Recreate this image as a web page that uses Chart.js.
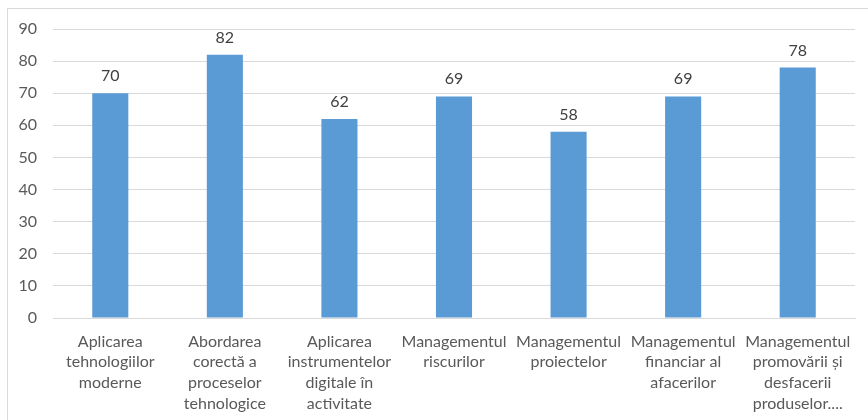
<!DOCTYPE html>
<html>
<head>
<meta charset="utf-8">
<script src="https://cdn.jsdelivr.net/npm/chart.js@4/dist/chart.umd.min.js"></script>
<style>
html,body{margin:0;padding:0;background:#fff;}
#wrap{width:868px;height:420px;position:relative;}
</style>
</head>
<body>
<div id="wrap"><canvas id="c" width="868" height="420"></canvas></div>
<script>
const categories = [
  ["Aplicarea", "tehnologiilor", "moderne"],
  ["Abordarea", "corectă a", "proceselor", "tehnologice"],
  ["Aplicarea", "instrumentelor", "digitale în", "activitate"],
  ["Managementul", "riscurilor"],
  ["Managementul", "proiectelor"],
  ["Managementul", "financiar al", "afacerilor"],
  ["Managementul", "promovării și", "desfacerii", "produselor...."]
];
const values = [70, 82, 62, 69, 58, 69, 78];
const yTicks = [0, 10, 20, 30, 40, 50, 60, 70, 80, 90];

const FONT = "Lato, 'Open Sans', sans-serif";

const borderPlugin = {
  id: 'outerBorder',
  beforeDraw(chart) {
    const ctx = chart.ctx;
    ctx.save();
    ctx.fillStyle = '#ffffff';
    ctx.fillRect(0, 0, chart.width, chart.height);
    ctx.strokeStyle = '#d9d9d9';
    ctx.lineWidth = 1;
    ctx.strokeRect(7.5, 8.5, 1000, 1000);
    ctx.restore();
  }
};

const labelPlugin = {
  id: 'dataLabels',
  afterDatasetsDraw(chart) {
    const ctx = chart.ctx;
    const meta = chart.getDatasetMeta(0);
    ctx.save();
    ctx.font = "16px " + FONT;
    ctx.fillStyle = '#404040';
    ctx.textAlign = 'center';
    ctx.textBaseline = 'alphabetic';
    meta.data.forEach((bar, i) => {
      ctx.fillText(String(values[i]), bar.x, bar.y - 12);
    });
    ctx.restore();
  }
};

new Chart(document.getElementById('c'), {
  type: 'bar',
  data: {
    labels: categories,
    datasets: [{
      data: values,
      backgroundColor: '#5b9bd5',
      borderWidth: 0,
      barPercentage: 0.63,
      categoryPercentage: 0.5
    }]
  },
  options: {
    responsive: false,
    animation: false,
    devicePixelRatio: 1,
    layout: { padding: { top: 29, right: 13, bottom: 0, left: 0 } },
    plugins: { legend: { display: false }, tooltip: { enabled: false } },
    scales: {
      y: {
        min: 0, max: 90,
        afterBuildTicks(axis) { axis.ticks = yTicks.map(v => ({ value: v })); },
        afterFit(axis) { axis.width = 53; },
        grid: { color: '#d9d9d9', drawTicks: false, lineWidth: 1 },
        border: { display: false },
        ticks: { color: '#595959', font: { family: FONT, size: 16 }, padding: 16 }
      },
      x: {
        afterFit(axis) { axis.height = 102; },
        grid: { display: false, drawTicks: false },
        border: { display: true, color: '#d9d9d9' },
        ticks: { color: '#595959', font: { family: FONT, size: 16, lineHeight: 1.3 }, padding: 13, maxRotation: 0, autoSkip: false }
      }
    }
  },
  plugins: [borderPlugin, labelPlugin]
});
</script>
</body>
</html>
